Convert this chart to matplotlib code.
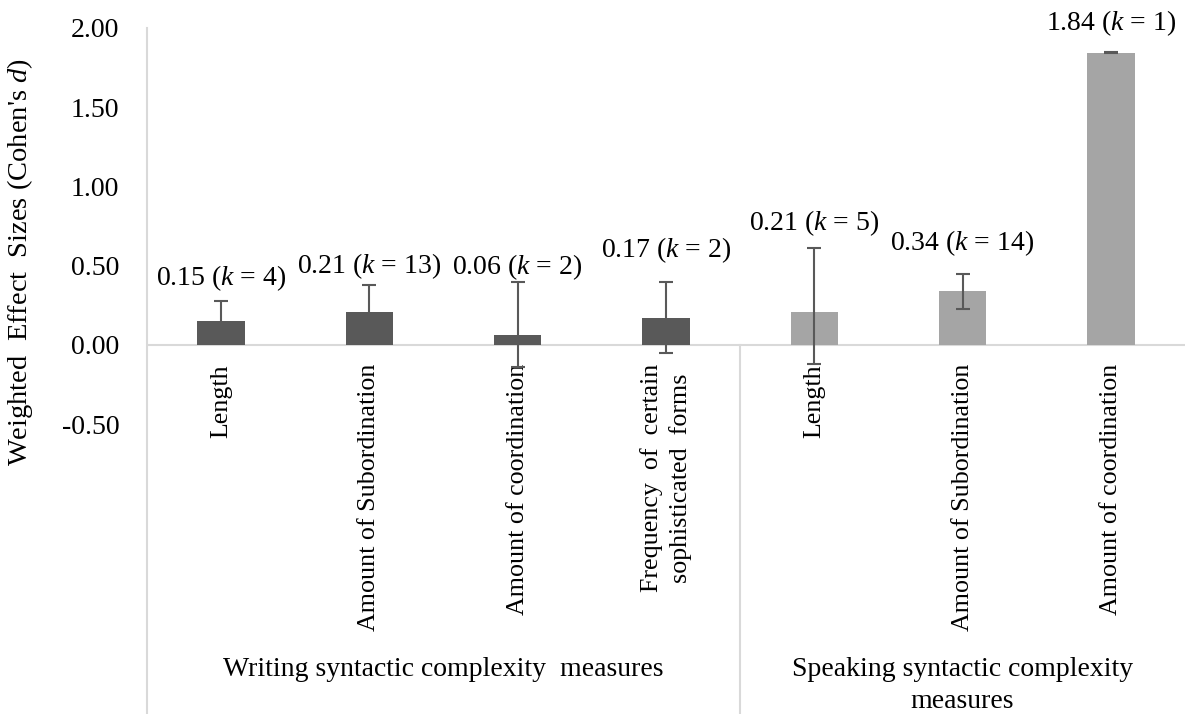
import matplotlib.pyplot as plt
import numpy as np

plt.rcParams["font.family"] = ["Liberation Serif", "DejaVu Serif"]
plt.rcParams["mathtext.fontset"] = "custom"
plt.rcParams["mathtext.rm"] = "Liberation Serif"
plt.rcParams["mathtext.it"] = "Liberation Serif:italic"

# weighted effect sizes per measure, with confidence bounds and study counts
measures = [
    "Length",
    "Amount of Subordination",
    "Amount of coordination",
    "Frequency  of  certain\nsophisticated  forms",
    "Length",
    "Amount of Subordination",
    "Amount of coordination",
]
groups = ["Writing syntactic complexity  measures", "Speaking syntactic complexity\nmeasures"]
group_sizes = [4, 3]
effect = [0.15, 0.21, 0.06, 0.17, 0.21, 0.34, 1.84]
ci_low = [0.02, 0.04, -0.14, -0.05, -0.12, 0.23, 1.84]
ci_high = [0.28, 0.38, 0.40, 0.40, 0.61, 0.45, 1.85]
k_studies = [4, 13, 2, 2, 5, 14, 1]
yticks = [-0.5, 0.0, 0.5, 1.0, 1.5, 2.0]

dark = "#595959"
light = "#a5a5a5"
grid = "#d9d9d9"
fs = 20

fig = plt.figure(figsize=(11.94, 7.14), dpi=100)
ax = fig.add_axes([147 / 1194, 0, (1185 - 147) / 1194, 1 - 28 / 714])

x = np.arange(len(effect))
effect = np.array(effect)
colors = [dark] * group_sizes[0] + [light] * group_sizes[1]
ax.bar(x, effect, width=0.32, color=colors, zorder=2)

yerr = np.array([effect - np.array(ci_low), np.array(ci_high) - effect])
ax.errorbar(x, effect, yerr=yerr, fmt="none", ecolor=dark, elinewidth=1.5,
            capsize=5, capthick=1.5, zorder=3)

# value labels, raised a bit above each upper bound
label_gap = [0.14, 0.12, 0.09, 0.20, 0.16, 0.19, 0.18]
for xi, v, hi, k, g in zip(x, effect, ci_high, k_studies, label_gap):
    ax.text(xi, hi + g, f"{v:.2f} ($k$ = {k})", ha="center", va="center",
            fontsize=fs, zorder=4)

ymin = -(714 - 345) / 158.5
ax.set_xlim(-0.5, len(effect) - 0.5)
ax.set_ylim(ymin, 2.0)
ax.set_yticks(yticks)
ax.set_yticklabels([f"{t:.2f}" for t in yticks], fontsize=fs)
ax.tick_params(axis="y", length=0, pad=20)
ax.set_xticks([])

for side in ["top", "right", "bottom"]:
    ax.spines[side].set_visible(False)
ax.spines["left"].set_color(grid)
ax.spines["left"].set_linewidth(1.5)

# category axis: zero line, group separator and labels
ax.axhline(0, color=grid, lw=1.5, zorder=1)
edges = np.cumsum([0] + group_sizes) - 0.5
ax.plot([edges[1], edges[1]], [0, ymin], color=grid, lw=1.5, clip_on=False, zorder=1)

for xi, name in zip(x, measures):
    ax.text(xi, -0.12, name, rotation=90, ha="center", va="top",
            multialignment="center", linespacing=1.35, fontsize=fs - 1.3, zorder=1)

for lo, hi, name in zip(edges[:-1], edges[1:], groups):
    ax.text((lo + hi) / 2, -1.97, name, ha="center", va="top",
            multialignment="center", linespacing=1.35, fontsize=fs)

fig.text(20 / 1194, 1 - 262 / 714, "Weighted  Effect  Sizes (Cohen's $d$)",
         rotation=90, ha="center", va="center", fontsize=fs + 0.5)

fig.savefig("out.png", dpi=100)
